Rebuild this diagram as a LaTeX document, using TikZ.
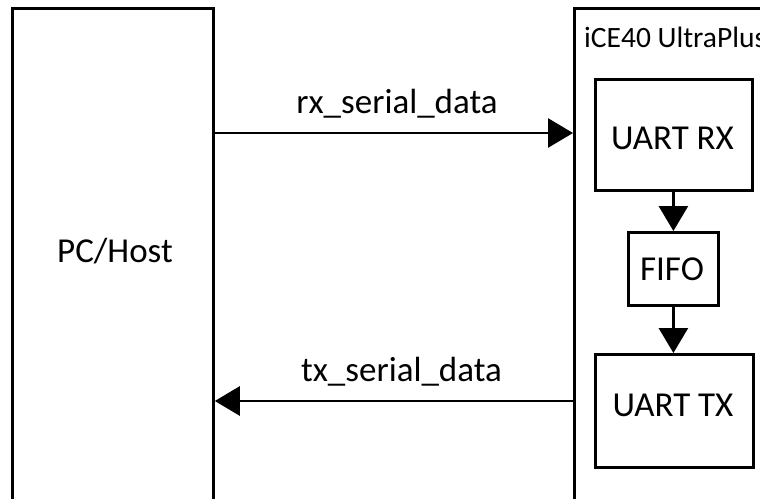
\documentclass[tikz,border=0pt]{standalone}
\usepackage{fontspec}
\setmainfont{Carlito}
\usetikzlibrary{arrows.meta}
\begin{document}
\begin{tikzpicture}[x=1pt,y=-1pt,
  box/.style={draw,line width=2.8pt,inner sep=0pt,anchor=north west},
  lbl/.style={inner sep=0pt,font=\fontsize{35}{40}\selectfont,anchor=base},
  conn/.style={line width=2.8pt,-{Triangle[length=25pt,width=29pt]}}]
\useasboundingbox (0,0) rectangle (760,498);
\clip (0,0) rectangle (760,498);
\fill[white] (0,0) rectangle (760,498);
\node[box,minimum width=201pt,minimum height=540pt] (pc) at (11,7) {};
\node[box,minimum width=240pt,minimum height=540pt] (ice) at (573,7) {};
\node[box,minimum width=157pt,minimum height=111pt] (rx) at (594,78) {};
\node[box,minimum width=90pt,minimum height=73pt] (fifo) at (627,231) {};
\node[box,minimum width=158pt,minimum height=113pt] (tx) at (594,353) {};
\node[lbl] (pct) at (115,262) {PC/Host};
\node[lbl] (rxt) at (672.5,149) {UART RX};
\node[lbl] (fifot) at (672,280) {FIFO};
\node[lbl] (txt) at (673,416) {UART TX};
\node[lbl,anchor=base west,font=\fontsize{29.5}{34}\selectfont] (icet) at (584,47) {iCE40 UltraPlus};
\node[lbl] (rxl) at (397,113) {rx\_serial\_data};
\node[lbl] (txl) at (401.5,381) {tx\_serial\_data};
\coordinate (rxy) at (0,133);
\coordinate (txy) at (0,401);
\draw[conn] (pc.east |- rxy) -- (ice.west |- rxy);
\draw[conn] (ice.west |- txy) -- (pc.east |- txy);
\draw[conn] (rx.south -| fifo.north) -- (fifo.north);
\draw[conn] (fifo.south) -- (fifo.south |- tx.north);
\end{tikzpicture}
\end{document}
